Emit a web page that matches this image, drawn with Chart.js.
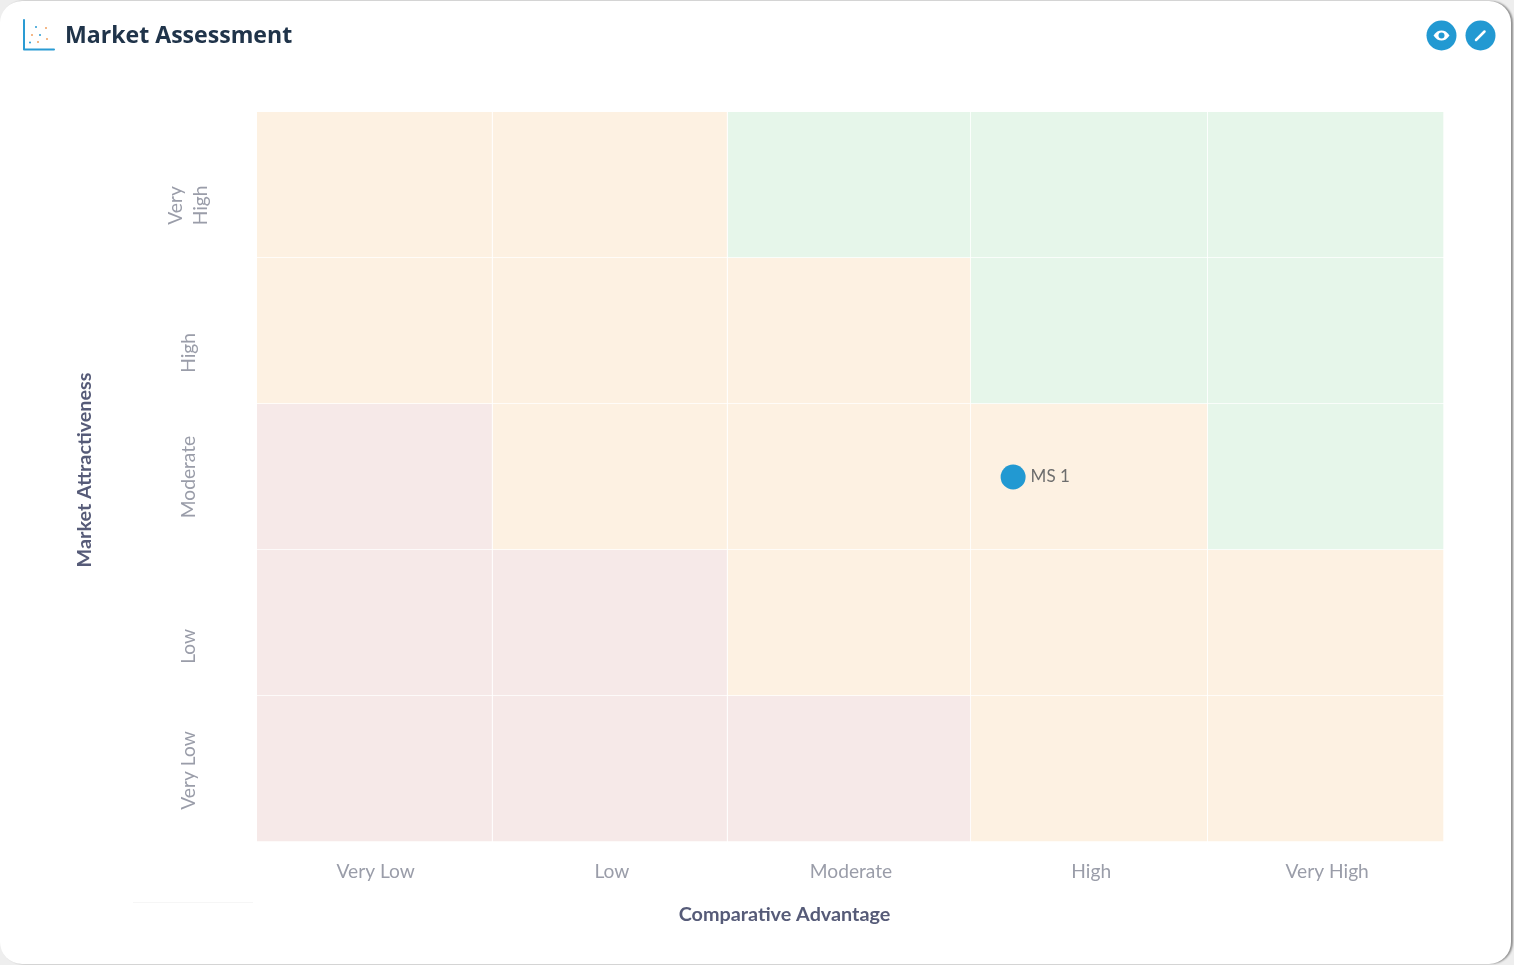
<!DOCTYPE html>
<html><head><meta charset="utf-8"><title>Market Assessment</title>
<script src="https://cdn.jsdelivr.net/npm/chart.js@4/dist/chart.umd.min.js"></script>
<style>
html,body{margin:0;padding:0;width:1514px;height:965px;overflow:hidden;background:#eeeeee}
#card{position:absolute;left:0;top:1px;width:1511px;height:963px;background:#fff;border-radius:22px;box-shadow:2px 0 2px #8f8f8f}
#c{position:absolute;left:0;top:0}
.ov{position:absolute}
#rule{position:absolute;left:133px;top:902px;width:120px;height:1px;background:#f6f6f6}
</style></head><body>
<div id="card"></div>
<div id="rule"></div>
<canvas id="c" width="1514" height="965"></canvas>
<svg class="ov" style="left:20px;top:16px" width="38" height="38" viewBox="0 0 38 38">
<path d="M4 4V33.5H34" fill="none" stroke="#2a9bd3" stroke-width="2" stroke-linecap="round" stroke-linejoin="round"/>
<g fill="#2a9bd3"><circle cx="16" cy="11" r="1"/><circle cx="20" cy="19" r="1"/><circle cx="10" cy="26.500" r="1"/></g>
<g fill="#f0a060"><circle cx="26" cy="12" r="1"/><circle cx="12" cy="19" r="1"/><circle cx="18" cy="26" r="1"/><circle cx="27" cy="23" r="1"/></g>
</svg>
<svg class="ov" style="left:1426px;top:20px" width="31" height="31" viewBox="0 0 31 31">
<circle cx="15.500" cy="15.500" r="15" fill="#2299d2"/>
<path d="M7.500 15.500C10 11.800 12.500 10.500 15.500 10.500S21 11.800 23.500 15.500C21 19.200 18.500 20.500 15.500 20.500S10 19.200 7.500 15.500Z" fill="#fff"/>
<circle cx="15.500" cy="15.500" r="3" fill="#2299d2"/>
</svg>
<svg class="ov" style="left:1465px;top:20px" width="31" height="31" viewBox="0 0 31 31">
<circle cx="15.500" cy="15.500" r="15" fill="#2299d2"/>
<path d="M11 20L19.500 11.500" stroke="#fff" stroke-width="2.500" stroke-linecap="round"/>
</svg>
<script>
const chartTitle = 'Market Assessment';
const xAxisTitle = 'Comparative Advantage';
const yAxisTitle = 'Market Attractiveness';
const xLabels = ['Very Low', 'Low', 'Moderate', 'High', 'Very High'];
const yRows = ['Very High', 'High', 'Moderate', 'Low', 'Very Low'];
const yLabels = [['Very', 'High'], 'High', 'Moderate', 'Low', 'Very Low'];
const xTickPositions = [0.5, 1.495, 2.502, 3.514, 4.508];
const yTickPositions = [4.36, 3.35, 2.50, 1.34, 0.49];
const columnWidths = [0.992, 0.99, 1.025, 0.998, 0.995];
const zoneVeryLowColumn = ['amber', 'amber', 'red', 'red', 'red'];
const zoneLowColumn = ['amber', 'amber', 'amber', 'red', 'red'];
const zoneModerateColumn = ['green', 'amber', 'amber', 'amber', 'red'];
const zoneHighColumn = ['green', 'green', 'amber', 'amber', 'amber'];
const zoneVeryHighColumn = ['green', 'green', 'green', 'amber', 'amber'];
const pointNames = ['MS 1'];
const pointX = [3.185];
const pointRow = ['Moderate'];
const zoneColors = {amber: '#fdf1e2', green: '#e6f6ea', red: '#f6e9e8'};
const tickFont = {family: 'Lato', size: 19.2};
const axisTitleFont = {family: 'Lato', size: 19.8, weight: 'bold', lineHeight: 1.2};

const zoneColumns = [zoneVeryLowColumn, zoneLowColumn, zoneModerateColumn, zoneHighColumn, zoneVeryHighColumn];
const cellDatasets = zoneColumns.map((zones, col) => ({
  type: 'bar', indexAxis: 'y', xAxisID: 'x', yAxisID: 'y', order: 2,
  label: xLabels[col],
  data: yRows.map(() => columnWidths[col]),
  backgroundColor: zones.map(z => zoneColors[z]),
  borderColor: '#ffffff',
  borderWidth: {top: 0, left: 0, right: 1, bottom: 1},
  borderSkipped: false,
  barPercentage: 1, categoryPercentage: 1
}));

function shiftTitle(scale, dx, dy) {
  if (scale.$shifted) return;
  scale.$shifted = true;
  const orig = scale.drawTitle.bind(scale);
  scale.drawTitle = function () {
    scale.ctx.save();
    scale.ctx.translate(dx, dy);
    orig();
    scale.ctx.restore();
  };
}

const pointNamePlugin = {
  id: 'pointNames',
  afterDatasetsDraw(chart) {
    const idx = chart.data.datasets.findIndex(d => d.type === 'scatter');
    const ctx = chart.ctx;
    ctx.save();
    ctx.font = '17px Lato';
    ctx.fillStyle = '#6d6d6d';
    ctx.textBaseline = 'middle';
    chart.getDatasetMeta(idx).data.forEach((pt, i) => ctx.fillText(pointNames[i], pt.x + 17.500, pt.y));
    ctx.restore();
  }
};

new Chart(document.getElementById('c'), {
  type: 'bar',
  plugins: [pointNamePlugin],
  data: {
    labels: yRows,
    datasets: [{
      type: 'scatter', indexAxis: 'x', label: pointNames[0], xAxisID: 'x', yAxisID: 'y', order: 1,
      data: pointX.map((x, i) => ({x, y: pointRow[i]})),
      pointRadius: 12.5, pointBackgroundColor: '#2299d2', pointBorderWidth: 0, showLine: false
    }].concat(cellDatasets)
  },
  options: {
    indexAxis: 'y',
    responsive: false,
    animation: false,
    layout: {padding: {left: 65, right: 70, top: 0, bottom: 39}},
    plugins: {
      legend: {display: false},
      tooltip: {enabled: false},
      title: {
        display: true, text: chartTitle, align: 'start', color: '#20344a',
        font: {family: 'Open Sans', size: 23.1, weight: 'bold', lineHeight: 1.2},
        padding: {top: 22.5, bottom: 61.8}
      }
    },
    scales: {
      x: {
        type: 'linear', position: 'bottom', min: 0, max: 5, stacked: true,
        border: {display: false},
        grid: {display: false, drawTicks: false},
        afterBuildTicks: s => { s.ticks = xTickPositions.map(value => ({value})); },
        afterFit: s => { s.height = 84; shiftTitle(s, -66, 0); },
        ticks: {
          autoSkip: false, maxRotation: 0, minRotation: 0, padding: 18,
          color: '#9a9da9', font: tickFont,
          callback: (v, i) => xLabels[i]
        },
        title: {display: true, text: xAxisTitle, color: '#565b78', font: axisTitleFont, padding: {top: 0, bottom: 0}}
      },
      y: {
        type: 'category', labels: yRows, position: 'left', stacked: true, display: false,
        grid: {display: false}
      },
      yl: {
        type: 'linear', position: 'left', min: 0, max: 5, offset: false,
        border: {display: false},
        grid: {display: false, drawTicks: false},
        afterBuildTicks: s => { s.ticks = yTickPositions.map(value => ({value})); },
        afterFit: s => { s.width = 192; shiftTitle(s, 0, -7); },
        ticks: {
          autoSkip: false, minRotation: 90, maxRotation: 90, crossAlign: 'center', padding: 27,
          color: '#9a9da9', font: {family: 'Lato', size: 19.2, lineHeight: 1.3},
          callback: (v, i) => yLabels[i]
        },
        title: {display: true, text: yAxisTitle, color: '#565b78', font: axisTitleFont, padding: {top: 8, bottom: 0}}
      }
    }
  }
});
</script>
</body></html>
